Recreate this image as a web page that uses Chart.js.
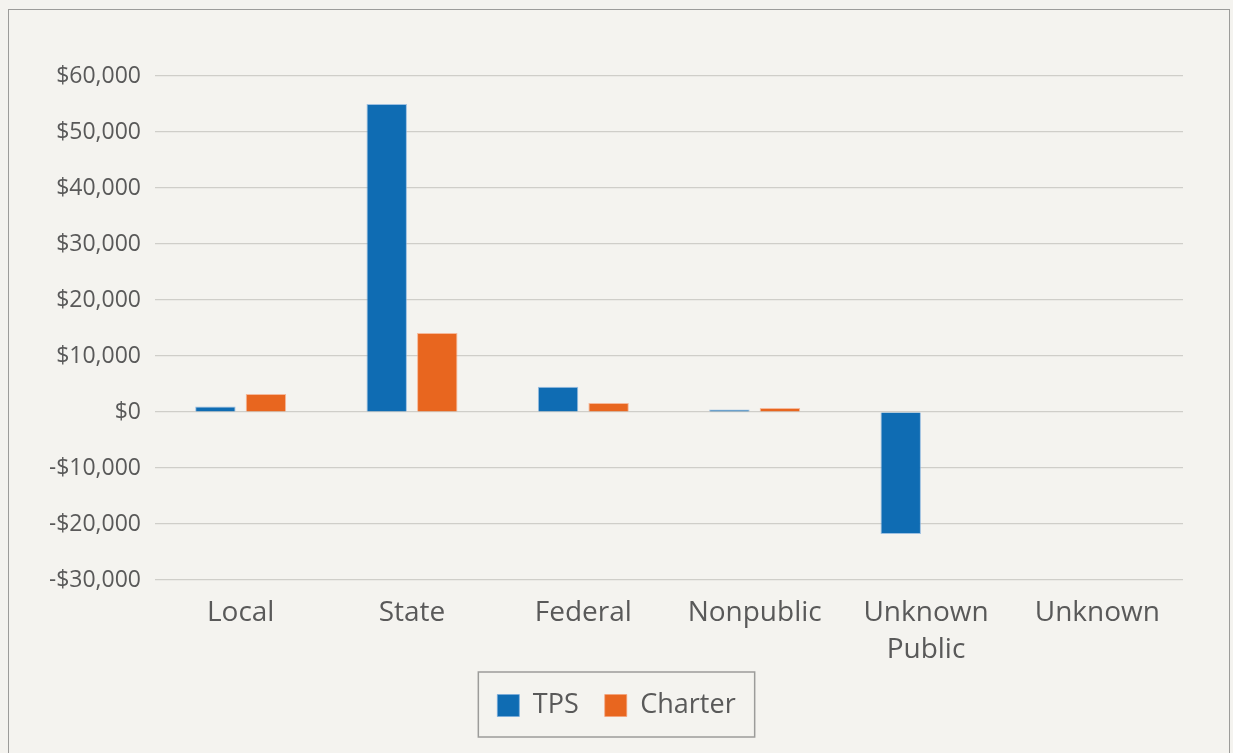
<!DOCTYPE html>
<html>
<head>
<meta charset="utf-8">
<script src="https://cdn.jsdelivr.net/npm/chart.js@4/dist/chart.umd.min.js"></script>
<style>
  html, body { margin: 0; padding: 0; background: #f4f3ef; }
  #wrap { position: relative; width: 1233px; height: 753px; overflow: hidden; background: #f4f3ef; }
  #frame { position: absolute; left: 8px; top: 9px; width: 1222px; height: 800px; border: 1.5px solid #9c9c9a; box-sizing: border-box; }
  canvas { position: absolute; left: 0; top: 0; }
</style>
</head>
<body>
<div id="wrap">
  <div id="frame"></div>
  <canvas id="c" width="1233" height="753"></canvas>
</div>
<script>
const categories = ["Local", "State", "Federal", "Nonpublic", ["Unknown", "Public"], "Unknown"];
const tpsValues = [1000, 55000, 4500, 450, -21800, 0];
const charterValues = [3200, 14100, 1600, 700, 0, 80];
const yTicks = [60000, 50000, 40000, 30000, 20000, 10000, 0, -10000, -20000, -30000];

function fmt(v) {
  const s = Math.abs(v).toLocaleString('en-US');
  return (v < 0 ? '-$' : '$') + s;
}

const legendBox = {
  id: 'legendBox',
  afterDraw(chart) {
    const lg = chart.legend;
    if (!lg || !lg.legendHitBoxes || !lg.legendHitBoxes.length) return;
    let l = Infinity, t = Infinity, r = -Infinity, b = -Infinity;
    lg.legendHitBoxes.forEach(h => {
      l = Math.min(l, h.left); t = Math.min(t, h.top);
      r = Math.max(r, h.left + h.width); b = Math.max(b, h.top + h.height);
    });
    const ctx = chart.ctx;
    ctx.save();
    ctx.strokeStyle = '#9c9c9a';
    ctx.lineWidth = 1.5;
    ctx.strokeRect(l - 19, t - 20, (r - l) + 38, (b - t) + 38);
    ctx.restore();
  }
};

new Chart(document.getElementById('c'), {
  type: 'bar',
  data: {
    labels: categories,
    datasets: [
      { label: 'TPS', data: tpsValues, backgroundColor: '#0f6cb3', borderColor: 'rgba(120,170,220,0.7)', borderWidth: 1, categoryPercentage: 0.59, barPercentage: 0.8 },
      { label: 'Charter', data: charterValues, backgroundColor: '#e8661f', borderColor: 'rgba(245,160,120,0.7)', borderWidth: 1, categoryPercentage: 0.59, barPercentage: 0.8 }
    ]
  },
  options: {
    responsive: false,
    animation: false,
    layout: { padding: { left: 50, right: 50, top: 76, bottom: 24 } },
    scales: {
      x: {
        grid: { display: false, drawTicks: false },
        border: { display: false },
        ticks: { color: '#595959', font: { family: 'Open Sans', size: 28, lineHeight: 1.3 }, padding: 15, maxRotation: 0, autoSkip: false },
        afterFit(s) { s.height = 86; }
      },
      y: {
        min: -30000, max: 60000,
        afterBuildTicks(s) { s.ticks = yTicks.map(v => ({ value: v })); },
        grid: { color: '#cfcec9', lineWidth: 1.2, drawTicks: false },
        border: { display: false },
        ticks: { color: '#595959', font: { family: 'Open Sans', size: 23 }, padding: 14, callback: v => fmt(v) },
        afterFit(s) { s.width = 105; }
      }
    },
    plugins: {
      legend: {
        position: 'bottom',
        labels: { color: '#595959', font: { family: 'Open Sans', size: 27 }, boxWidth: 22, boxHeight: 22, padding: 26 }
      },
      tooltip: { enabled: false }
    }
  },
  plugins: [legendBox]
});
</script>
</body>
</html>
